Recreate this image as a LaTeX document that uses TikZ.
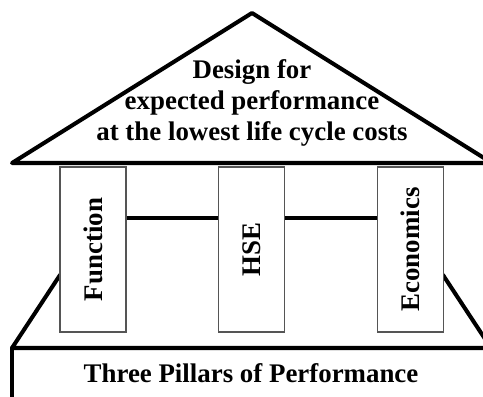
\documentclass[tikz,border=0pt]{standalone}
\usepackage{fontspec}
\setmainfont{Liberation Serif}
\usetikzlibrary{calc}
\definecolor{cLine}{HTML}{000000}
\definecolor{cPillar}{HTML}{555555}
\tikzset{
  thick4/.style={draw=cLine,line width=2.3pt,line join=round,line cap=round},
  pillar/.style={draw=cPillar,fill=white,line width=0.6pt,minimum width=66*0.02cm,
      minimum height=165*0.02cm,inner sep=0pt},
  pilllab/.style={font=\bfseries\fontsize{15.3}{18}\selectfont,rotate=90},
  rooflab/.style={font=\bfseries\fontsize{15.3}{17.6}\selectfont,align=center},
  beam/.style={draw=cLine,line width=2.3pt},
}
\begin{document}
\begin{tikzpicture}[x=0.02cm,y=-0.02cm]
  \useasboundingbox (0,0) rectangle (483,396);
  \clip (0,0) rectangle (483,396);
  \fill[white] (0,0) rectangle (483,396);

  \coordinate (bl) at (12,348);
  \coordinate (br) at (520,348);
  \coordinate (slopeL) at (60,275);
  \coordinate (slopeR) at (443,275);
  \draw[thick4] (slopeL) -- (bl) -- (br);
  \draw[thick4] (slopeR) -- ($(slopeR)!1.6!(443+48,348)$);
  \draw[thick4] (bl) -- (12,420);
  \node[font=\bfseries\fontsize{15.3}{18}\selectfont] (base) at (251,373)
    {Three Pillars of Performance};

  \node[pillar] (fn) at (93,249.5) {};
  \node[pillar] (hse) at (251.5,249.5) {};
  \node[pillar] (eco) at (410.5,249.5) {};
  \node[pilllab] at (fn) {Function};
  \node[pilllab] at (hse) {HSE};
  \node[pilllab] at (eco) {Economics};

  \draw[beam] (fn.east |- 0,218) -- (hse.west |- 0,218);
  \draw[beam] (hse.east |- 0,218) -- (eco.west |- 0,218);

  \coordinate (apex) at (252,13);
  \coordinate (eaveL) at (12,163);
  \coordinate (eaveR) at (492,163);
  \filldraw[thick4,fill=white] (eaveL) -- (apex) -- (eaveR) -- cycle;
  \node[rooflab] (roof) at (252,103)
    {Design for\\expected performance\\at the lowest life cycle costs};
\end{tikzpicture}
\end{document}
